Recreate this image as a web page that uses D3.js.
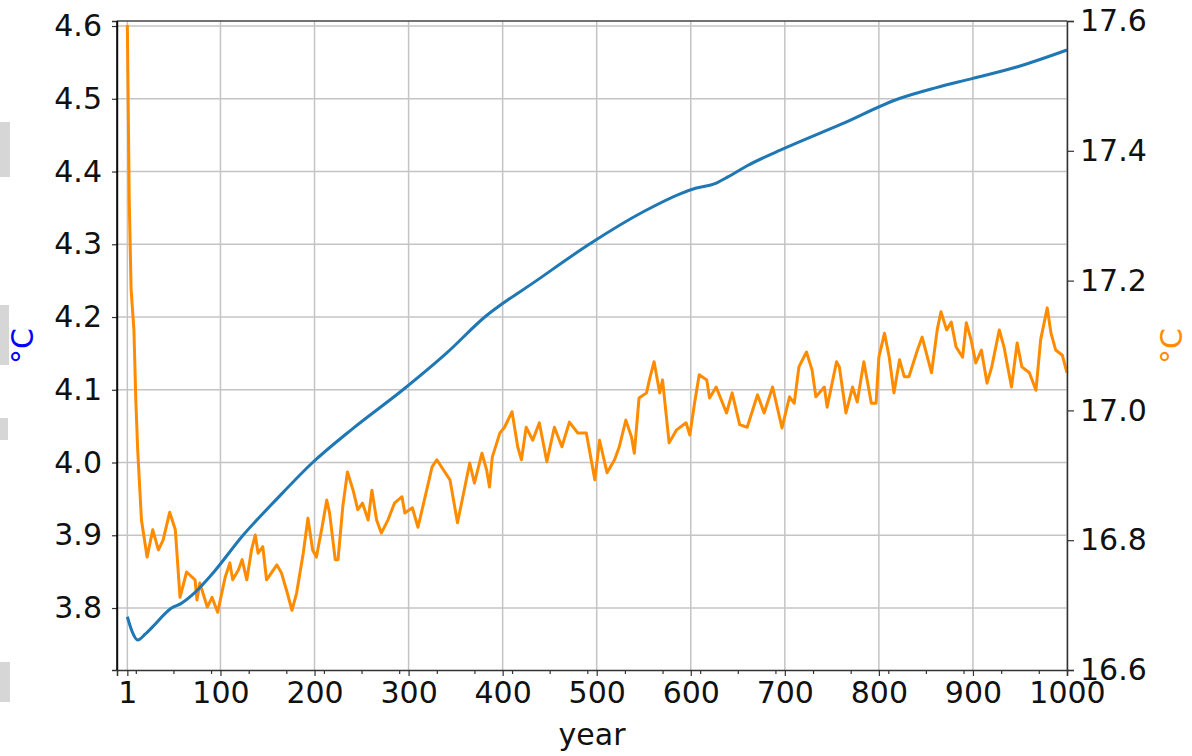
<!DOCTYPE html>
<html lang="en">
<head>
  <meta charset="UTF-8" />
  <title>Temperature by year</title>
  <script src="https://d3js.org/d3.v7.min.js"></script>
  <style>
    body { margin: 0; background: #fff; font-family: "DejaVu Sans", sans-serif; }
    svg { display: block; }
  </style>
</head>
<body>
  <svg width="1192" height="756"></svg>
  <script>
    // left axis series (blue)
    const blueYears = [1, 6, 12, 20, 30, 40, 48, 58, 70, 90, 124, 160, 198, 240, 294, 340, 381, 436, 492, 550, 590, 605, 625, 640, 660, 700, 760, 821, 860, 900, 950, 1000];
    const blueVals  = [3.788, 3.768, 3.756, 3.764, 3.777, 3.791, 3.800, 3.806, 3.818, 3.845, 3.900, 3.950, 4.000, 4.046, 4.100, 4.150, 4.200, 4.250, 4.300, 4.345, 4.370, 4.377, 4.383, 4.393, 4.408, 4.432, 4.465, 4.500, 4.515, 4.528, 4.545, 4.567];

    // right axis series (orange)
    const orangeYears = [1, 3, 5, 8, 10, 12, 16, 22, 28, 34, 39, 46, 52, 57, 64, 73, 75, 78, 86, 91, 97, 105, 110, 113, 119, 123, 128, 133, 137, 140, 145, 149, 160, 165, 171, 176, 181, 188, 193, 198, 202, 208, 213, 216, 222, 225, 230, 235, 241, 246, 251, 257, 261, 266, 271, 278, 285, 293, 296, 304, 310, 315, 325, 330, 344, 352, 357, 365, 370, 378, 383, 386, 389, 397,
      402, 410, 416, 420, 425, 432, 439, 447, 455, 463, 471, 480, 489, 498, 503, 511, 519, 524, 531, 537, 540, 545, 553, 556, 561, 567, 570, 577, 585, 595, 599, 604, 609, 617, 620, 627, 638, 644, 652, 660, 671, 678, 687, 697, 705, 710, 715,
      723, 729, 733, 742, 745, 755, 758, 765, 772, 777, 784, 792, 797, 800, 806, 811, 816, 822, 827, 832, 841, 846, 856, 862, 866, 872, 877, 882, 889, 893, 898, 903, 909, 915, 920, 928, 933, 941, 947, 952, 960, 967, 972, 979, 983, 988, 995, 1000];
    const orangeVals = [17.594, 17.324, 17.186, 17.124, 17.016, 16.939, 16.831, 16.774, 16.816, 16.785, 16.800, 16.843, 16.816, 16.712, 16.751, 16.739, 16.708, 16.734, 16.697, 16.712, 16.689, 16.743, 16.765, 16.739, 16.754, 16.770, 16.739, 16.785, 16.808, 16.780, 16.790, 16.739, 16.762, 16.749, 16.719, 16.692, 16.719, 16.780, 16.834, 16.785, 16.774, 16.820, 16.862, 16.842, 16.770, 16.770, 16.851, 16.905, 16.877, 16.847, 16.857, 16.831, 16.877, 16.831, 16.811, 16.831, 16.857, 16.867, 16.842, 16.850, 16.820, 16.851, 16.913, 16.924, 16.893, 16.827, 16.862, 16.919, 16.888, 16.934, 16.908, 16.882, 16.928, 16.965,
      16.974, 16.998, 16.944, 16.924, 16.974, 16.954, 16.981, 16.921, 16.974, 16.944, 16.982, 16.965, 16.965, 16.893, 16.954, 16.904, 16.924, 16.944, 16.985, 16.959, 16.934, 17.019, 17.027, 17.047, 17.075, 17.027, 17.047, 16.950, 16.970, 16.981, 16.962, 17.011, 17.055, 17.047, 17.019, 17.036, 16.996, 17.027, 16.978, 16.974, 17.024, 16.996, 17.036, 16.973, 17.021, 17.011, 17.067,
      17.090, 17.062, 17.021, 17.036, 17.005, 17.075, 17.067, 16.996, 17.036, 17.013, 17.075, 17.011, 17.011, 17.082, 17.119, 17.082, 17.027, 17.078, 17.052, 17.052, 17.093, 17.113, 17.058, 17.124, 17.152, 17.124, 17.136, 17.098, 17.082, 17.135, 17.109, 17.073, 17.093, 17.042, 17.067, 17.124, 17.098, 17.036, 17.104, 17.067, 17.058, 17.031, 17.109, 17.158, 17.119, 17.093, 17.085, 17.058];

    const xTicks = [1, 100, 200, 300, 400, 500, 600, 700, 800, 900, 1000];
    const xMinorTicks = d3.range(10, 1000, 40);
    const leftTicks = [3.8, 3.9, 4.0, 4.1, 4.2, 4.3, 4.4, 4.5, 4.6];
    const rightTicks = [16.6, 16.8, 17.0, 17.2, 17.4, 17.6];

    const svg = d3.select("svg");
    const margin = { top: 21, right: 125, bottom: 86, left: 117 };
    const W = 1192, H = 756;
    const iw = W - margin.left - margin.right, ih = H - margin.top - margin.bottom;

    const x = d3.scaleLinear().domain([-10, 1000]).range([0, iw]);
    const yL = d3.scaleLinear().domain([3.7148, 4.6069]).range([ih, 0]);
    const yR = d3.scaleLinear().domain([16.6, 17.6]).range([ih, 0]);

    // stray grey shapes along the left edge of the picture
    const scraps = [[0, 122, 10, 55], [0, 305, 9, 60], [0, 418, 8, 22], [0, 662, 10, 40]];
    svg.append("g").selectAll("rect").data(scraps).join("rect")
      .attr("x", d => d[0]).attr("y", d => d[1]).attr("width", d => d[2]).attr("height", d => d[3])
      .attr("fill", "#d6d6d6");

    const g = svg.append("g").attr("transform", `translate(${margin.left},${margin.top})`);

    // grid
    g.append("g").selectAll("line").data(xTicks).join("line")
      .attr("x1", d => x(d)).attr("x2", d => x(d)).attr("y1", 0).attr("y2", ih)
      .attr("stroke", "#c4c4c4").attr("stroke-width", 1.5);
    g.append("g").selectAll("line").data(leftTicks).join("line")
      .attr("x1", 0).attr("x2", iw).attr("y1", d => yL(d)).attr("y2", d => yL(d))
      .attr("stroke", "#c4c4c4").attr("stroke-width", 1.5);

    // lines
    const blue = blueYears.map((d, i) => [d, blueVals[i]]);
    const orange = orangeYears.map((d, i) => [d, orangeVals[i]]);

    g.append("path").datum(orange)
      .attr("fill", "none").attr("stroke", "#ff8c00").attr("stroke-width", 3)
      .attr("stroke-linejoin", "round")
      .attr("d", d3.line().x(d => x(d[0])).y(d => yR(d[1])));

    g.append("path").datum(blue)
      .attr("fill", "none").attr("stroke", "#1f77b4").attr("stroke-width", 3)
      .attr("d", d3.line().curve(d3.curveMonotoneX).x(d => x(d[0])).y(d => yL(d[1])));

    // axes
    const fontSize = "30px";
    const xAxis = g.append("g").attr("transform", `translate(0,${ih})`)
      .call(d3.axisBottom(x).tickValues(xTicks).tickFormat(d3.format("d")).tickSize(6).tickPadding(6));
    g.append("g").attr("transform", `translate(0,${ih})`)
      .call(d3.axisBottom(x).tickValues(xMinorTicks).tickFormat("").tickSize(4))
      .call(a => a.select(".domain").remove());
    const leftAxis = g.append("g")
      .call(d3.axisLeft(yL).tickValues(leftTicks).tickFormat(d3.format(".1f")).tickSize(5).tickPadding(10));
    const rightAxis = g.append("g").attr("transform", `translate(${iw},0)`)
      .call(d3.axisRight(yR).tickValues(rightTicks).tickFormat(d3.format(".1f")).tickSize(7).tickPadding(6));

    [xAxis, leftAxis, rightAxis].forEach(a => {
      a.selectAll("text").attr("font-size", fontSize).attr("font-family", "DejaVu Sans").attr("fill", "#111");
      a.selectAll("line").attr("stroke", "#333");
      a.select(".domain").attr("stroke", "#333").attr("stroke-width", 1.5);
    });
    g.selectAll(".tick line").attr("stroke", "#333").attr("stroke-width", 1.2);

    // top and left spines
    g.append("line").attr("x1", 0).attr("x2", iw).attr("y1", 0).attr("y2", 0)
      .attr("stroke", "#444").attr("stroke-width", 1.5);
    g.append("line").attr("x1", 0).attr("x2", 0).attr("y1", 0).attr("y2", ih)
      .attr("stroke", "#000").attr("stroke-width", 1.5);

    // labels
    svg.append("text").attr("x", margin.left + iw / 2).attr("y", 745)
      .attr("text-anchor", "middle").attr("font-size", fontSize).attr("fill", "#111")
      .text("year");
    svg.append("text").attr("transform", "translate(33,346) rotate(-90)")
      .attr("text-anchor", "middle").attr("font-size", fontSize).attr("fill", "#0000ff")
      .text("°C");
    svg.append("text").attr("transform", "translate(1182,346) rotate(-90)")
      .attr("text-anchor", "middle").attr("font-size", fontSize).attr("fill", "#ff8c00")
      .text("°C");
  </script>
</body>
</html>
